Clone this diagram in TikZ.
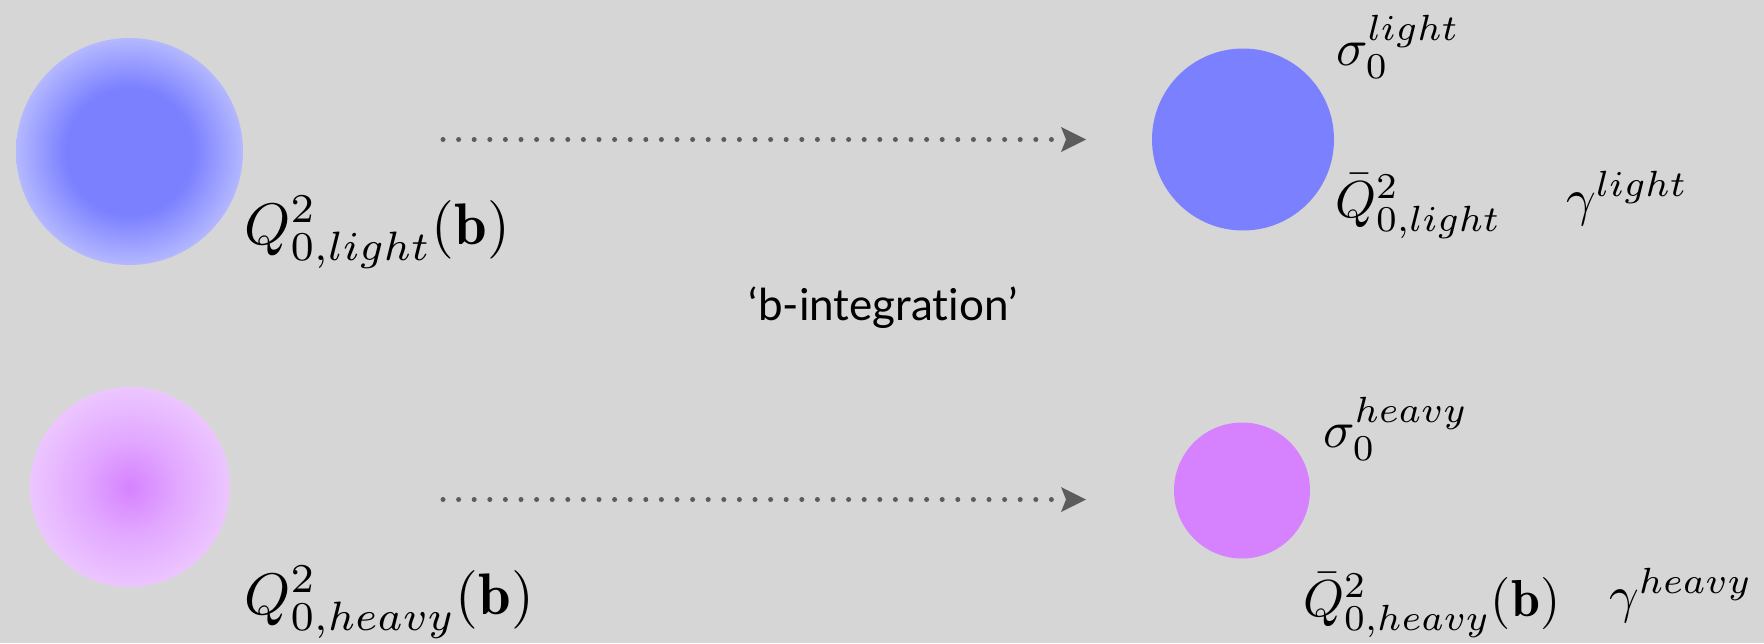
\documentclass[tikz,border=0pt]{standalone}
\usepackage{fontspec}
\newfontfamily\notefont[Ligatures=NoCommon]{Lato}
\usetikzlibrary{arrows.meta}

\definecolor{bg}{RGB}{214,214,214}
\definecolor{lightcore}{RGB}{123,128,255}
\definecolor{lightrim}{RGB}{180,184,255}
\definecolor{heavycore}{RGB}{214,130,255}
\definecolor{heavymid}{RGB}{226,168,255}
\definecolor{heavyrim}{RGB}{236,198,255}
\definecolor{flowgray}{RGB}{92,92,92}

% soft-edged densities (25bp = rim of the disc)
\pgfdeclareradialshading{lightblob}{\pgfpoint{0bp}{0bp}}{%
  color(0bp)=(lightcore); color(14bp)=(lightcore);
  color(25bp)=(lightrim); color(50bp)=(lightrim)}
\pgfdeclareradialshading{heavyblob}{\pgfpoint{0bp}{0bp}}{%
  color(0bp)=(heavycore); color(12bp)=(heavymid);
  color(25bp)=(heavyrim); color(50bp)=(heavyrim)}

\tikzset{
  disc/.style={circle, inner sep=0pt, draw=none},
  lbl/.style={anchor=base west, inner sep=0pt, font=\fontsize{10}{12}\selectfont,
    transform shape},
  bigl/.style={lbl, scale=2.93},
  smalll/.style={lbl, scale=2.6},
  flow/.style={draw=flowgray, line width=2.5pt, line cap=round,
    dash pattern=on 0pt off 7.8pt,
    -{Stealth[length=12.5pt, width=12.5pt, inset=2.5pt, fill=flowgray, line width=0pt, round=false]}},
  note/.style={anchor=base, inner sep=0pt, font=\notefont\fontsize{22}{26}\selectfont},
}

\begin{document}
\begin{tikzpicture}[x=0.5pt, y=-0.5pt]
  \useasboundingbox (0,0) rectangle (1764,643);
  \fill[bg] (0,0) rectangle (1764,643);

  % b-dependent profiles
  \node[disc, minimum size=113.5pt, shading=lightblob] (lightb) at (129.5,151.5) {};
  \node[disc, minimum size=100pt, shading=heavyblob] (heavyb) at (130,487) {};

  % integrated discs
  \node[disc, minimum size=91pt, fill=lightcore] (lightint) at (1243,139.5) {};
  \node[disc, minimum size=68pt, fill=heavycore] (heavyint) at (1242,490.5) {};

  % labels
  \node[bigl] (qlight) at (243,244) {$Q^2_{0,light}(\mathbf{b})$};
  \node[bigl] (qheavy) at (243,614) {$Q^2_{0,heavy}(\mathbf{b})$};
  \node[smalll] (siglight) at (1335,65) {$\sigma_0^{light}$};
  \node[smalll] (qbarlight) at (1334,217) {$\bar{Q}^2_{0,light}$};
  \node[smalll] (gamlight) at (1565,215) {$\gamma^{light}$};
  \node[smalll] (sigheavy) at (1322,447) {$\sigma_0^{heavy}$};
  \node[smalll] (qbarheavy) at (1302,616) {$\bar{Q}^2_{0,heavy}(\mathbf{b})$};
  \node[smalll] (gamheavy) at (1608,612) {$\gamma^{heavy}$};

  % integration arrows
  \coordinate (a1s) at (443,139.5);
  \coordinate (a1e) at (1086,139.5);
  \coordinate (a2s) at (443,499.5);
  \coordinate (a2e) at (1086,499.5);
  \draw[flow] (a1s) -- (a1e);
  \draw[flow] (a2s) -- (a2e);

  \node[note] (integ) at (883,320) {‘b-integration’};
\end{tikzpicture}
\end{document}
